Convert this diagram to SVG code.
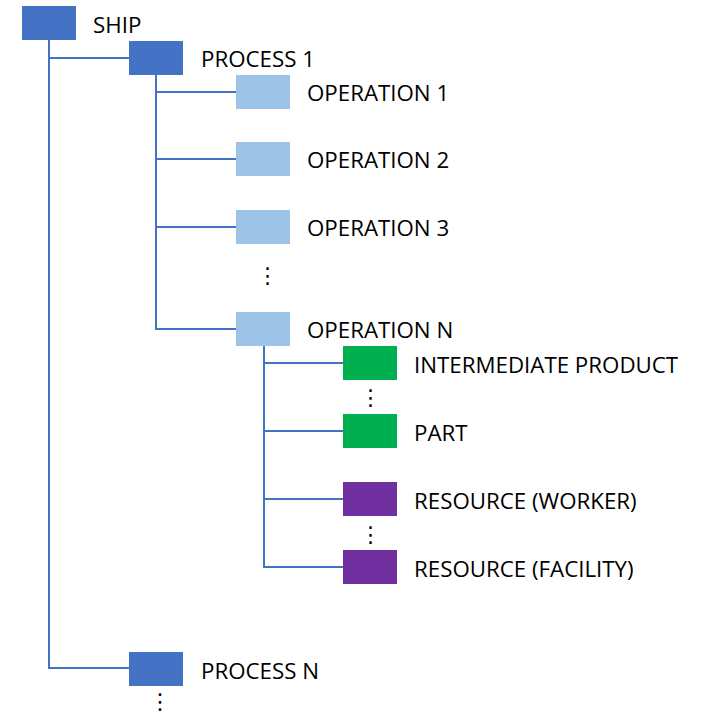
<svg xmlns="http://www.w3.org/2000/svg" width="706" height="713" viewBox="0 0 706 713">
  <style>
    .bg { fill: #ffffff; }
    .wire { fill: none; stroke: #4472C4; stroke-width: 2; }
    .ship, .process { fill: #4472C4; }
    .operation { fill: #9DC3E6; }
    .product { fill: #00B050; }
    .resource { fill: #7030A0; }
    .label { font-family: "Open Sans", "Liberation Sans", sans-serif; font-size: 22.3px; fill: #000000; }
    .more { font-family: "DejaVu Sans", sans-serif; font-size: 22px; fill: #000000; text-anchor: middle; }
  </style>
  <rect class="bg" x="0" y="0" width="706" height="713"/>

  <!-- tree connectors -->
  <g id="connectors">
    <path class="wire" d="M49 40 V668 H129"/>
    <path class="wire" d="M49 58 H129"/>
    <path class="wire" d="M156 75 V329 H236"/>
    <path class="wire" d="M156 92 H236"/>
    <path class="wire" d="M156 159 H236"/>
    <path class="wire" d="M156 227 H236"/>
    <path class="wire" d="M264 346 V567 H343"/>
    <path class="wire" d="M264 363 H343"/>
    <path class="wire" d="M264 431 H343"/>
    <path class="wire" d="M264 499 H343"/>
  </g>

  <g id="ship">
    <rect class="ship" x="22" y="6" width="54" height="34"/>
    <text class="label" x="93" y="33">SHIP</text>
  </g>
  <g id="process-1">
    <rect class="process" x="129" y="41" width="54" height="34"/>
    <text class="label" x="201" y="67">PROCESS 1</text>
  </g>
  <g id="operation-1">
    <rect class="operation" x="236" y="75" width="54" height="34"/>
    <text class="label" x="307" y="101">OPERATION 1</text>
  </g>
  <g id="operation-2">
    <rect class="operation" x="236" y="142" width="54" height="34"/>
    <text class="label" x="307" y="168">OPERATION 2</text>
  </g>
  <g id="operation-3">
    <rect class="operation" x="236" y="210" width="54" height="34"/>
    <text class="label" x="307" y="236">OPERATION 3</text>
  </g>
  <g id="operation-more">
    <text class="more" x="267.5" y="283">⋮</text>
  </g>
  <g id="operation-n">
    <rect class="operation" x="236" y="312" width="54" height="34"/>
    <text class="label" x="307" y="338">OPERATION N</text>
  </g>
  <g id="intermediate-product">
    <rect class="product" x="343" y="346" width="54" height="34"/>
    <text class="label" x="414" y="373">INTERMEDIATE PRODUCT</text>
  </g>
  <g id="product-more">
    <text class="more" x="370.5" y="405">⋮</text>
  </g>
  <g id="part">
    <rect class="product" x="343" y="414" width="54" height="34"/>
    <text class="label" x="414" y="441">PART</text>
  </g>
  <g id="resource-worker">
    <rect class="resource" x="343" y="482" width="54" height="34"/>
    <text class="label" x="414" y="509">RESOURCE (WORKER)</text>
  </g>
  <g id="resource-more">
    <text class="more" x="370.5" y="542">⋮</text>
  </g>
  <g id="resource-facility">
    <rect class="resource" x="343" y="550" width="54" height="34"/>
    <text class="label" x="414" y="577">RESOURCE (FACILITY)</text>
  </g>
  <g id="process-n">
    <rect class="process" x="129" y="652" width="54" height="34"/>
    <text class="label" x="201" y="679">PROCESS N</text>
  </g>
  <g id="process-more">
    <text class="more" x="160" y="709">⋮</text>
  </g>
</svg>
